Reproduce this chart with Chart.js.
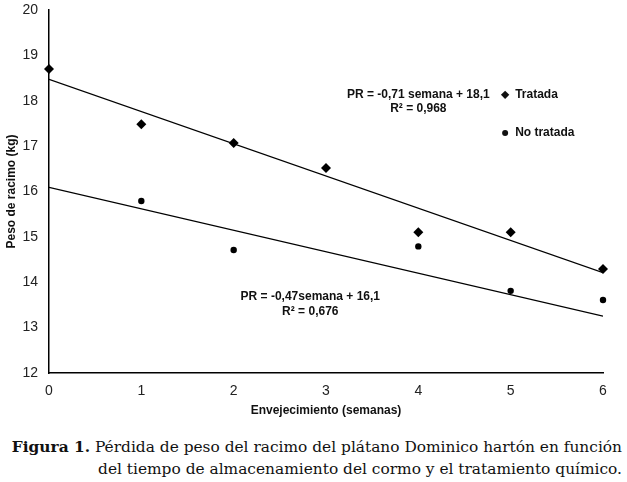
<!DOCTYPE html>
<html>
<head>
<meta charset="utf-8">
<script src="https://cdn.jsdelivr.net/npm/chart.js@4.4.1/dist/chart.umd.min.js"></script>
<style>
  body { margin: 0; background: #fff; }
  #wrap { position: relative; width: 627px; height: 482px; }
  #box { position: absolute; left: 0; top: 0; width: 627px; height: 425px; }
  .cap { position: absolute; right: 5px; font-family: "DejaVu Serif", "Liberation Serif", serif;
         font-size: 15.4px; line-height: 18px; color: #111; white-space: nowrap; text-align: right; }
</style>
</head>
<body>
<div id="wrap">
  <div id="box"><canvas id="pesoChart"></canvas></div>
  <div class="cap" style="top:438px"><b>Figura 1.</b> Pérdida de peso del racimo del plátano Dominico hartón en función</div>
  <div class="cap" style="top:460px">del tiempo de almacenamiento del cormo y el tratamiento químico.</div>
</div>
<script>
// semanas de almacenamiento
const semanas = [0, 1, 2, 3, 4, 5, 6];
// peso de racimo (kg)
const tratada = [18.70, 17.48, 17.07, 16.52, 15.10, 15.10, 14.29];
const noTratada = [null, 15.79, 14.71, null, 14.79, 13.81, 13.61];
// lineas de tendencia como se dibujan (intercepto, pendiente)
const tendTratada = [18.47, -0.71];
const tendNoTratada = [16.09, -0.473];
const yTicks = [12, 13, 14, 15, 16, 17, 18, 19, 20];
const ecuaciones = [
    ['PR = -0,71 semana + 18,1', 'R² = 0,968'],
    ['PR = -0,47semana + 16,1', 'R² = 0,676']
];

const toPts = (arr) => semanas.map((s, i) => ({x: s, y: arr[i]})).filter(p => p.y !== null);
const lineaTend = (c) => [0, 6].map(x => ({x: x, y: c[0] + c[1] * x}));

const sansFont = '"Liberation Sans", Arial, sans-serif';

// ecuaciones y leyenda dentro del area del grafico
const notas = {
    id: 'notas',
    afterDatasetsDraw(chart) {
        const ctx = chart.ctx;
        const xs = chart.scales.x, ys = chart.scales.y;
        ctx.save();
        ctx.fillStyle = '#111';
        ctx.textAlign = 'center';
        ctx.textBaseline = 'middle';
        ctx.font = 'bold 12px ' + sansFont;
        // posiciones en unidades de datos
        const pos = [[4.0, 18.14, 17.83], [2.83, 13.69, 13.36]];
        ecuaciones.forEach((eq, i) => {
            const cx = xs.getPixelForValue(pos[i][0]);
            ctx.fillText(eq[0], cx, ys.getPixelForValue(pos[i][1]));
            ctx.fillText(eq[1], cx, ys.getPixelForValue(pos[i][2]));
        });
        // leyenda
        ctx.textAlign = 'left';
        const lx = xs.getPixelForValue(4.94);
        const ly1 = ys.getPixelForValue(18.13), ly2 = ys.getPixelForValue(17.29);
        ctx.beginPath();
        ctx.moveTo(lx, ly1 - 4.2); ctx.lineTo(lx + 4.2, ly1); ctx.lineTo(lx, ly1 + 4.2); ctx.lineTo(lx - 4.2, ly1);
        ctx.closePath(); ctx.fill();
        ctx.beginPath(); ctx.arc(lx, ly2, 3, 0, Math.PI * 2); ctx.fill();
        ctx.fillText('Tratada', lx + 10, ly1);
        ctx.fillText('No tratada', lx + 10, ly2);
        ctx.restore();
    }
};

new Chart(document.getElementById('pesoChart').getContext('2d'), {
    type: 'scatter',
    data: {
        datasets: [{
            label: 'Tratada',
            data: toPts(tratada),
            pointStyle: 'rectRot',
            pointRadius: 5,
            backgroundColor: '#000',
            borderColor: '#000',
            borderWidth: 0,
            clip: false
        }, {
            label: 'No tratada',
            data: toPts(noTratada),
            pointStyle: 'circle',
            pointRadius: 3.2,
            backgroundColor: '#000',
            borderColor: '#000',
            borderWidth: 0,
            clip: false
        }, {
            label: 'tend1',
            type: 'line',
            data: lineaTend(tendTratada),
            borderColor: '#000',
            borderWidth: 1.3,
            pointRadius: 0
        }, {
            label: 'tend2',
            type: 'line',
            data: lineaTend(tendNoTratada),
            borderColor: '#000',
            borderWidth: 1.3,
            pointRadius: 0
        }]
    },
    options: {
        responsive: true,
        maintainAspectRatio: false,
        animation: false,
        layout: { padding: { left: 0, right: 24, top: 10, bottom: 0 } },
        plugins: { legend: { display: false }, tooltip: { enabled: false } },
        scales: {
            x: {
                type: 'linear',
                min: 0, max: 6,
                afterFit: (s) => { s.height = 52; s.paddingLeft = 0; s.paddingRight = 0; },
                afterBuildTicks: (s) => { s.ticks = semanas.map(v => ({value: v})); },
                grid: { display: false, drawTicks: false },
                border: { color: '#000', width: 1.5 },
                ticks: { color: '#222', padding: 10, font: { family: sansFont, size: 14 } },
                title: { display: true, text: 'Envejecimiento (semanas)', color: '#111',
                         font: { family: sansFont, size: 12, weight: 'bold' }, padding: { top: 0, bottom: 7 } }
            },
            y: {
                min: 12, max: 20,
                afterFit: (s) => { s.width = 49; s.paddingTop = 0; s.paddingBottom = 0; },
                afterBuildTicks: (s) => { s.ticks = yTicks.map(v => ({value: v})); },
                grid: { display: false, drawTicks: false },
                border: { color: '#000', width: 1.5 },
                ticks: { color: '#222', padding: 11, font: { family: sansFont, size: 14 } },
                title: { display: true, text: 'Peso de racimo (kg)', color: '#111',
                         font: { family: sansFont, size: 12, weight: 'bold' }, padding: { top: 4, bottom: 0 } }
            }
        }
    },
    plugins: [notas]
});
</script>
</body>
</html>
